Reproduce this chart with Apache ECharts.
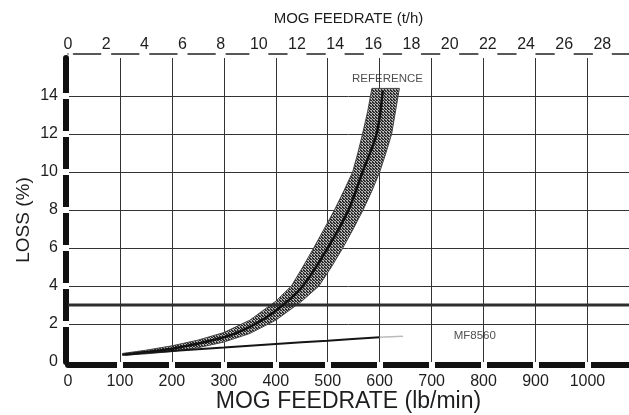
<!DOCTYPE html>
<html>
<head>
<meta charset="utf-8">
<script src="https://cdn.jsdelivr.net/npm/echarts@6/dist/echarts.min.js"></script>
<style>
  html, body { margin: 0; padding: 0; background: #fff; }
  #main { width: 629px; height: 415px; }
</style>
</head>
<body>
<div id="main"></div>
<script>
// axis ranges
var lbMax = 1080;
var lbPerTph = 36.74;           // 1 t/h = 36.74 lb/min
var tphMax = lbMax / lbPerTph;
var lossMax = 16;

// where the thick axis bars are broken
var lbBreaks = [100, 200, 300, 400, 500, 600, 700, 800, 900, 1000];
var lossBreaks = [2, 4, 6, 8, 10, 12, 14];

// REFERENCE curve (centre line), lb/min vs loss %
var refX = [110, 200, 300, 350, 400, 452, 500, 540, 567, 594, 606];
var refY = [0.4, 0.7, 1.3, 1.85, 2.7, 4.0, 6.0, 8.0, 10.0, 12.0, 14.3];

// shaded band round the reference curve: upper/left edge and lower/right edge
var bandTopX = [105, 150, 200, 250, 300, 350, 400, 430, 452, 473, 493, 513, 531, 548, 558, 567, 577, 585];
var bandTopY = [0.45, 0.62, 0.85, 1.15, 1.55, 2.2, 3.2, 4.0, 5.0, 6.0, 7.0, 8.0, 9.0, 10.0, 11.0, 12.0, 13.2, 14.4];
var bandBotX = [105, 150, 200, 250, 300, 350, 400, 450, 483, 507, 529, 549, 568, 585, 600, 612, 623, 638];
var bandBotY = [0.35, 0.43, 0.55, 0.75, 1.05, 1.5, 2.2, 3.2, 4.0, 5.0, 6.0, 7.0, 8.0, 9.0, 10.0, 11.0, 12.0, 14.4];

// MF8560 line
var mfX = [105, 200, 300, 400, 500, 600];
var mfY = [0.4, 0.58, 0.76, 0.95, 1.12, 1.3];
var mfTailX = [600, 645];
var mfTailY = [1.3, 1.35];

// 3 % loss line
var limitX = [0, lbMax];
var limitY = [3, 3];

// text notes
var noteX = [615, 783];
var noteY = [14.9, 1.4];
var noteText = ['REFERENCE', 'MF8560'];

function zip(xs, ys) {
  return xs.map(function (x, i) { return [x, ys[i]]; });
}

// grid geometry (pixels)
var gridLeft = 68, gridRight = 0, gridTop = 58, gridBottom = 53;
var plotW = 629 - gridLeft - gridRight;

// top axis: thin line that stops at each label
function topDash() {
  var step = plotW / tphMax * 2;
  var w = function (v) { return String(v).length * 9 + 2; };
  var arr = [0];
  var prevHalf = w(0) / 2;
  arr.push(prevHalf);
  for (var k = 1; k <= 14; k++) {
    var half = w(2 * k) / 2;
    arr.push(step - prevHalf - half, 2 * half);
    prevHalf = half;
  }
  arr.push(200);
  return arr;
}

// grey hatch for the band
var hatch = document.createElement('canvas');
hatch.width = 3; hatch.height = 3;
var hc = hatch.getContext('2d');
hc.fillStyle = '#b4b4b4';
hc.fillRect(0, 0, 3, 3);
hc.fillStyle = '#2c2c2c';
hc.fillRect(0, 0, 2, 1);
hc.fillRect(1, 1, 2, 1);
hc.fillRect(0, 2, 1, 1);

var bandPoly = zip(bandTopX, bandTopY).concat(zip(bandBotX, bandBotY).reverse());

var font = 'Liberation Sans';
var textColor = '#1e1e1e';
var gridColor = '#333';

// an invisible axis whose white ticks cut the thick axis bar
function cutterAxis(extra) {
  return Object.assign({
    type: 'value',
    z: 5,
    axisLine: { show: false, onZero: false },
    axisLabel: { show: false },
    splitLine: { show: false }
  }, extra);
}

var myChart = echarts.init(document.getElementById('main'));
myChart.setOption({
  animation: false,
  backgroundColor: '#fff',
  textStyle: { fontFamily: font },
  grid: {
    left: gridLeft, right: gridRight, top: gridTop, bottom: gridBottom,
    containLabel: false, outerBoundsMode: 'none'
  },
  xAxis: [
    {
      type: 'value',
      position: 'bottom',
      min: 0,
      max: lbMax,
      interval: 100,
      offset: 3,
      name: 'MOG FEEDRATE (lb/min)',
      nameLocation: 'middle',
      nameGap: 25,
      nameMoveOverlap: false,
      nameTextStyle: { fontSize: 23, color: textColor, fontFamily: font },
      axisLine: { onZero: false, lineStyle: { color: '#111', width: 6 } },
      axisTick: { show: false },
      axisLabel: {
        fontSize: 16, color: textColor, margin: 9, showMaxLabel: false, fontFamily: font,
        formatter: function (v) { return String(v); }
      },
      splitLine: { show: true, showMaxLine: false, lineStyle: { color: gridColor, width: 1 } }
    },
    {
      type: 'value',
      position: 'top',
      min: 0,
      max: tphMax,
      interval: 2,
      offset: 4,
      name: 'MOG FEEDRATE (t/h)',
      nameLocation: 'middle',
      nameGap: 28,
      nameTextStyle: { fontSize: 15, color: textColor, fontFamily: font },
      axisLine: { onZero: false, lineStyle: { color: '#222', width: 1.5, type: topDash() } },
      axisTick: { show: false },
      axisLabel: { fontSize: 16, color: textColor, margin: 1, showMaxLabel: false, fontFamily: font },
      splitLine: { show: false }
    },
    cutterAxis({
      position: 'bottom',
      min: 0,
      max: lbMax,
      interval: 100,
      offset: 0,
      axisTick: {
        show: true, inside: false, length: 7, customValues: lbBreaks,
        lineStyle: { color: '#fff', width: 6 }
      }
    })
  ],
  yAxis: [
    {
      type: 'value',
      position: 'left',
      min: 0,
      max: lossMax,
      interval: 2,
      offset: 2,
      name: 'LOSS (%)',
      nameLocation: 'middle',
      nameGap: 33,
      nameMoveOverlap: false,
      nameTextStyle: { fontSize: 19, color: textColor, fontFamily: font, padding: [0, 20, 0, 0] },
      axisLine: { show: true, onZero: false, lineStyle: { color: '#111', width: 6 } },
      axisTick: { show: false },
      axisLabel: { fontSize: 16, color: textColor, margin: 8, showMaxLabel: false, fontFamily: font },
      splitLine: { show: true, showMaxLine: false, lineStyle: { color: gridColor, width: 1 } }
    },
    cutterAxis({
      position: 'left',
      min: 0,
      max: lossMax,
      interval: 2,
      offset: -1,
      axisTick: {
        show: true, inside: false, length: 7, customValues: lossBreaks,
        lineStyle: { color: '#fff', width: 6 }
      }
    })
  ],
  series: [
    {
      name: 'band',
      type: 'custom',
      xAxisIndex: 0,
      yAxisIndex: 0,
      data: bandPoly,
      z: 3,
      renderItem: function (params, api) {
        if (params.dataIndex !== 0) return null;
        var pts = bandPoly.map(function (p) { return api.coord(p); });
        return {
          type: 'polygon',
          shape: { points: pts },
          style: { fill: { image: hatch, repeat: 'repeat' }, stroke: '#444', lineWidth: 1 }
        };
      }
    },
    {
      name: '3%',
      type: 'line',
      xAxisIndex: 0,
      yAxisIndex: 0,
      data: zip(limitX, limitY),
      symbol: 'none',
      z: 4,
      lineStyle: { color: '#2e2e2e', width: 3 }
    },
    {
      name: 'REFERENCE',
      type: 'line',
      xAxisIndex: 0,
      yAxisIndex: 0,
      data: zip(refX, refY),
      symbol: 'none',
      smooth: 0.3,
      z: 5,
      lineStyle: { color: '#111', width: 2.5 }
    },
    {
      name: 'MF8560',
      type: 'line',
      xAxisIndex: 0,
      yAxisIndex: 0,
      data: zip(mfX, mfY),
      symbol: 'none',
      smooth: 0.2,
      z: 5,
      lineStyle: { color: '#151515', width: 2 }
    },
    {
      name: 'MF8560 tail',
      type: 'line',
      xAxisIndex: 0,
      yAxisIndex: 0,
      data: zip(mfTailX, mfTailY),
      symbol: 'none',
      z: 5,
      lineStyle: { color: '#bbb', width: 1.5 }
    },
    {
      name: 'notes',
      type: 'scatter',
      xAxisIndex: 0,
      yAxisIndex: 0,
      symbolSize: 1,
      itemStyle: { color: 'rgba(0,0,0,0)' },
      z: 6,
      label: {
        show: true,
        position: 'inside',
        fontSize: 11.5,
        color: '#222',
        fontFamily: font,
        formatter: function (p) { return noteText[p.dataIndex]; }
      },
      data: zip(noteX, noteY)
    }
  ]
});
</script>
</body>
</html>
